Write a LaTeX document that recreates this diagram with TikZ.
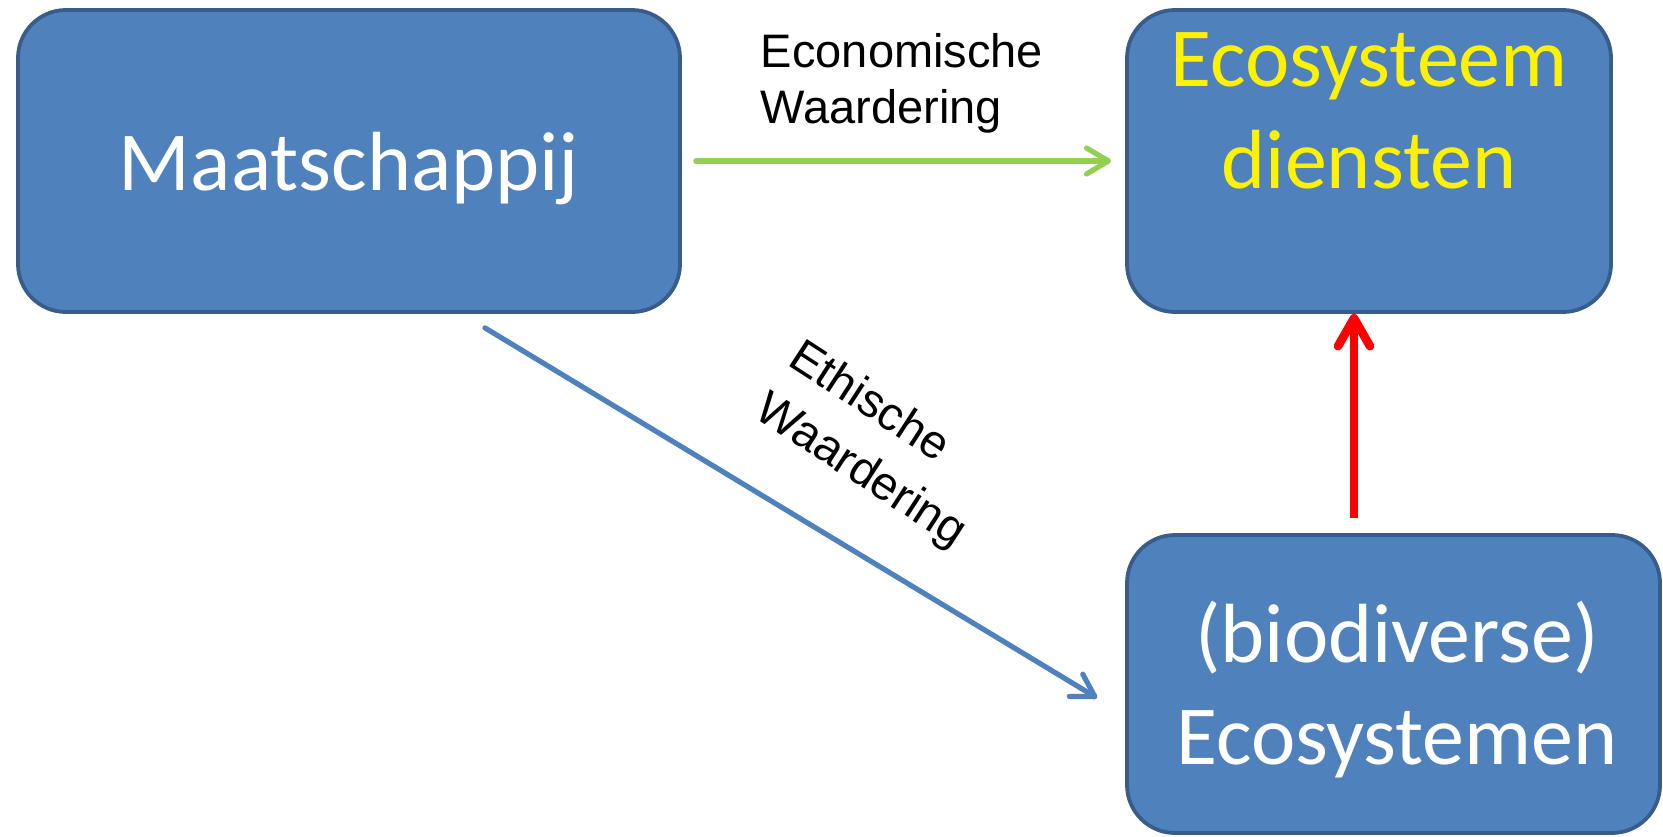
\documentclass[tikz,border=0pt]{standalone}
\usepackage{fontspec}
\setmainfont{Carlito}
\newfontfamily\arialfont{Liberation Sans}
\usetikzlibrary{arrows.meta}

\definecolor{boxfill}{HTML}{4F81BD}
\definecolor{boxline}{HTML}{385D8A}
\definecolor{econgreen}{HTML}{92D050}
\definecolor{ethblue}{HTML}{4F81BD}

\begin{document}
\begin{tikzpicture}[x=0.5pt, y=-0.5pt,
    block/.style={draw=boxline, fill=boxfill, line width=1.9pt, rounded corners=24pt,
        inner sep=0pt, align=center, text=white, font=\fontsize{42}{51}\selectfont},
    blocktext/.style={inner sep=0pt, align=center, font=\fontsize{42}{51}\selectfont},
    waarde/.style={inner sep=0pt, align=left, font=\arialfont\fontsize{23.5}{28}\selectfont},
    econ/.style={econgreen, line width=2.6pt, line cap=round,
        -{Straight Barb[round, length=11pt, width=13pt]}},
    ethic/.style={ethblue, line width=2.6pt, line cap=round,
        -{Straight Barb[round, length=11pt, width=13pt]}},
    impact/.style={red, line width=4.3pt,
        -{Straight Barb[round, length=14pt, width=16pt]}}]
        \useasboundingbox (0, 0) rectangle (1663, 836);

        \node[block, minimum width=331pt, minimum height=151pt, text depth=0pt] (maat) at (349, 161) {Maatschappij};
        \node[block, minimum width=242pt, minimum height=151pt] (dienst) at (1369, 161) {};
        \node[blocktext, text=yellow] (dtext) at (1369, 111) {Ecosysteem\\diensten};
        \node[block, minimum width=266.5pt, minimum height=149pt] (ecos) at (1393.5, 684) {};
        \node[blocktext, text=white] (etext) at (1397, 690) {(biodiverse)\\Ecosystemen};

        \node[waarde] (econlbl) at (902, 83) {Economische\\Waardering};
        \node[waarde, rotate=-33, font=\arialfont\fontsize{23.5}{31}\selectfont] (ethlbl) at (877, 446) {Ethische\\Waardering};

        \draw[econ, shorten <=7pt, shorten >=7pt] (maat) -- (dienst);
        \draw[ethic] ([xshift=68pt, yshift=-7pt]maat.south) -- ([xshift=-14pt, yshift=-7pt]ecos.west);
        \draw[impact, shorten <=7.5pt] ([xshift=-19.75pt]ecos.north) -- ([xshift=-7.5pt]dienst.south);

    \end{tikzpicture}
\end{document}
